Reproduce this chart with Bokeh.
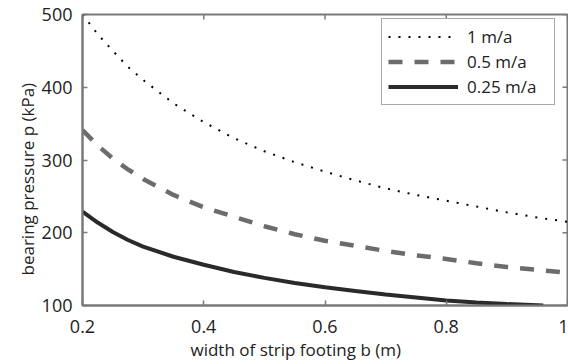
import math
from bokeh.plotting import figure
from bokeh.models import Range1d, FixedTicker, Legend, LegendItem, CustomJSTickFormatter, Title
from bokeh.embed import file_html
from bokeh.resources import INLINE

# data
b = [0.2, 0.225, 0.25, 0.275, 0.3, 0.35, 0.4, 0.45, 0.5, 0.55, 0.6, 0.65, 0.7, 0.75, 0.8, 0.85, 0.9, 0.95, 1.0]
p_1 = [500, 473, 450, 428, 410, 378, 352, 330, 312, 297, 284, 272, 261, 252, 244, 236, 228, 221, 215]
p_05 = [341, 320, 302, 287, 274, 252, 235, 222, 209, 198, 189, 182, 175, 169, 164, 158, 153, 149, 145]
b_025 = [0.2, 0.225, 0.25, 0.275, 0.3, 0.35, 0.4, 0.45, 0.5, 0.55, 0.6, 0.65, 0.7, 0.75, 0.8, 0.85, 0.9, 0.96]
p_025 = [229, 214, 201, 190, 181, 167, 156, 146, 138, 131, 125, 120, 115, 111, 107, 104, 102, 100]
labels = ["1 m/a", "0.5 m/a", "0.25 m/a"]
x_ticks = [0.2, 0.4, 0.6, 0.8, 1.0]
y_ticks = [100, 200, 300, 400, 500]
x_title = "width of strip footing b (m)"
y_title = "bearing pressure p (kPa)"

FONT = "Open Sans"
GREY = "#7a7a7a"
TXT = "#222222"

p = figure(width=568, height=364, output_backend="svg", toolbar_location=None,
           x_range=Range1d(x_ticks[0], x_ticks[-1]), y_range=Range1d(y_ticks[0], y_ticks[-1]),
           min_border_left=82, min_border_right=1, min_border_top=14, min_border_bottom=59)
p.xgrid.visible = False
p.ygrid.visible = False
p.outline_line_color = GREY
p.outline_line_width = 2
p.background_fill_color = "white"
p.border_fill_color = "white"

r1 = p.line(b, p_1, line_color="black", line_width=2, line_dash="2 8")
r2 = p.line(b, p_05, line_color="#6c6c6c", line_width=4.5, line_dash="14 12")
r3 = p.line(b_025, p_025, line_color="#2a2a2a", line_width=4)

# inward ticks on the top and right edges of the box
p.ray(x=x_ticks, y=[y_ticks[-1]] * len(x_ticks), length=5, length_units="screen",
      angle=-math.pi / 2, line_color=GREY, line_width=1.5)
p.ray(x=[x_ticks[-1]] * len(y_ticks), y=y_ticks, length=5, length_units="screen",
      angle=math.pi, line_color=GREY, line_width=1.5)

fmt = CustomJSTickFormatter(code="return tick.toString();")
for ax in (p.xaxis[0], p.yaxis[0]):
    ax.axis_line_color = GREY
    ax.axis_line_width = 2
    ax.major_tick_in = 5
    ax.major_tick_out = 0
    ax.minor_tick_line_color = None
    ax.major_tick_line_color = GREY
    ax.major_tick_line_width = 1.5
    ax.major_label_text_font = FONT
    ax.major_label_text_font_size = "18px"
    ax.major_label_text_color = TXT

p.xaxis[0].ticker = FixedTicker(ticks=x_ticks)
p.xaxis[0].formatter = fmt
p.xaxis[0].major_label_standoff = 14
p.yaxis[0].ticker = FixedTicker(ticks=y_ticks)
p.yaxis[0].major_label_standoff = 10

# axis titles (offset like the reference, not centred on the frame)
xt = Title(text=x_title, align="left", offset=108, text_font=FONT, text_font_size="17px",
           text_font_style="normal", text_color=TXT, standoff=0)
p.add_layout(xt, "below")
yt = Title(text=y_title, align="left", offset=30, text_font=FONT, text_font_size="17px",
           text_font_style="normal", text_color=TXT, standoff=0)
p.add_layout(yt, "left")

legend = Legend(items=[LegendItem(label=labels[0], renderers=[r1]),
                       LegendItem(label=labels[1], renderers=[r2]),
                       LegendItem(label=labels[2], renderers=[r3])],
                location=(299, 200), orientation="vertical")
legend.label_text_font = FONT
legend.label_text_font_size = "17px"
legend.label_text_color = TXT
legend.glyph_width = 70
legend.glyph_height = 23
legend.label_height = 23
legend.label_width = 81
legend.label_standoff = 9
legend.spacing = 2
legend.padding = 6
legend.margin = 0
legend.border_line_color = "#555555"
legend.border_line_width = 1.5
legend.background_fill_color = "white"
legend.background_fill_alpha = 1
p.add_layout(legend, "center")

open("out.html", "w").write(file_html(p, INLINE))
